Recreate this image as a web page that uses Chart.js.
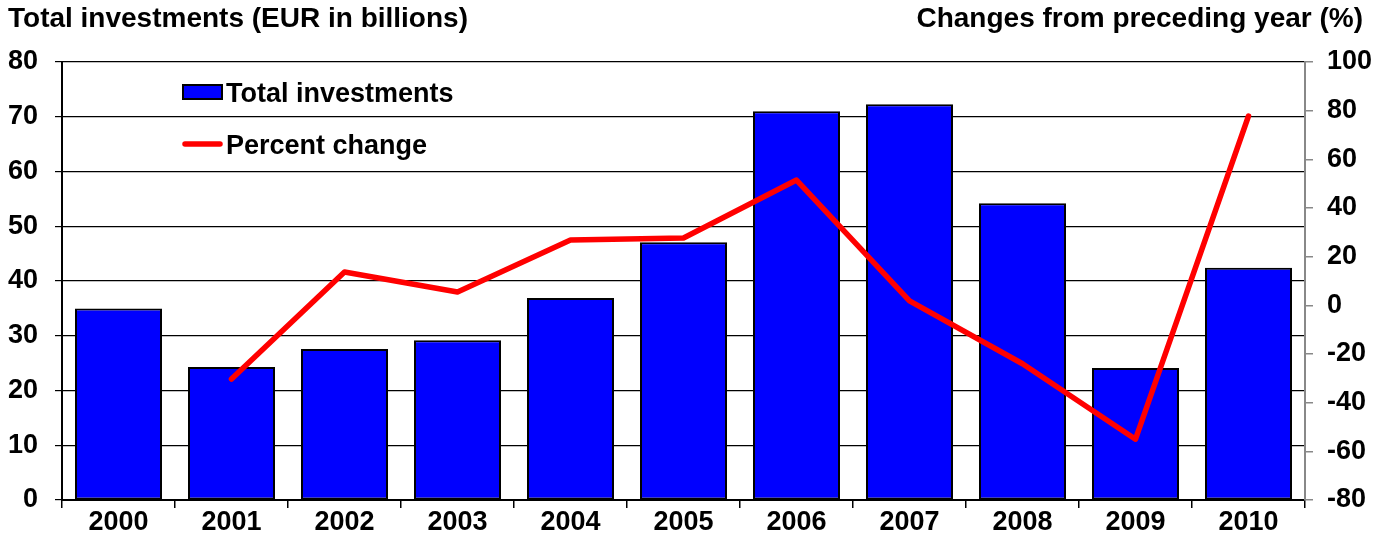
<!DOCTYPE html>
<html>
<head>
<meta charset="utf-8">
<title>Total investments</title>
<script src="https://cdn.jsdelivr.net/npm/chart.js@4/dist/chart.umd.min.js"></script>
<style>
  html, body { margin: 0; padding: 0; background: #fff; }
  canvas { display: block; }
</style>
</head>
<body>
<canvas id="chart1" width="1379" height="540"></canvas>
<script>
'use strict';

const years = ['2000', '2001', '2002', '2003', '2004', '2005', '2006', '2007', '2008', '2009', '2010'];
const investments = [35.0, 24.3, 27.6, 29.2, 36.9, 47.1, 71.0, 72.3, 54.2, 24.1, 42.4];
const percentChange = [null, -30.3, 13.7, 5.5, 26.8, 27.7, 51.5, 1.8, -24.0, -55.0, 77.8];

const leftTitle = 'Total investments (EUR in billions)';
const rightTitle = 'Changes from preceding year (%)';

const FONT = 'Liberation Sans, Arial, sans-serif';

// axis titles above the plot and the legend drawn inside it
const extras = {
  id: 'extras',
  afterDraw(chart) {
    const ctx = chart.ctx;
    ctx.save();
    ctx.fillStyle = '#000';
    ctx.textBaseline = 'alphabetic';
    ctx.font = 'bold 28px ' + FONT;
    ctx.textAlign = 'left';
    ctx.fillText(leftTitle, 8, 27);
    ctx.textAlign = 'right';
    ctx.fillText(rightTitle, 1363, 27);

    const ds = chart.data.datasets;
    ctx.font = 'bold 27px ' + FONT;
    ctx.textAlign = 'left';

    ctx.fillStyle = ds[0].backgroundColor;
    ctx.fillRect(183, 85, 39, 14);
    ctx.strokeStyle = '#000';
    ctx.lineWidth = 2;
    ctx.strokeRect(183, 85, 39, 14);
    ctx.fillStyle = '#000';
    ctx.fillText(ds[0].label, 226, 102);

    ctx.strokeStyle = ds[1].borderColor;
    ctx.lineWidth = 5.5;
    ctx.lineCap = 'round';
    ctx.beginPath();
    ctx.moveTo(185, 144);
    ctx.lineTo(220, 144);
    ctx.stroke();
    ctx.fillText(ds[1].label, 226, 154);
    ctx.restore();
  }
};

function run() {
  const ctx = document.getElementById('chart1').getContext('2d');
  new Chart(ctx, {
    type: 'bar',
    data: {
      labels: years,
      datasets: [
        {
          label: 'Total investments',
          data: investments,
          yAxisID: 'y',
          backgroundColor: '#0000ff',
          borderColor: '#000',
          borderWidth: 2,
          borderSkipped: false,
          barPercentage: 0.77,
          categoryPercentage: 1,
          order: 1
        },
        {
          type: 'line',
          label: 'Percent change',
          data: percentChange,
          yAxisID: 'y1',
          borderColor: '#ff0000',
          borderWidth: 5.5,
          borderCapStyle: 'round',
          borderJoinStyle: 'round',
          pointRadius: 0,
          tension: 0,
          order: 0
        }
      ]
    },
    options: {
      responsive: false,
      animation: false,
      devicePixelRatio: 1,
      layout: { padding: { top: 62, left: 0, right: 0, bottom: 0 } },
      plugins: {
        legend: { display: false },
        tooltip: { enabled: false }
      },
      scales: {
        x: {
          offset: true,
          afterFit: s => { s.height = 40; },
          border: { color: '#000', width: 2 },
          grid: { offset: true, drawOnChartArea: false, drawTicks: true, tickLength: 8, color: '#000', lineWidth: 1.5 },
          ticks: { color: '#000', padding: -2, font: { family: FONT, size: 27, weight: 'bold' } }
        },
        y: {
          position: 'left',
          min: 0,
          max: 80,
          afterFit: s => { s.width = 62; },
          border: { color: '#000', width: 2 },
          grid: { color: '#000', lineWidth: 1.2, tickLength: 7 },
          ticks: { stepSize: 10, color: '#000', padding: 17, font: { family: FONT, size: 27, weight: 'bold' } }
        },
        y1: {
          position: 'right',
          min: -80,
          max: 100,
          afterFit: s => { s.width = 74; },
          border: { color: '#888', width: 2 },
          grid: { drawOnChartArea: false, color: '#888', lineWidth: 1.5, tickLength: 8 },
          ticks: { stepSize: 20, color: '#000', padding: 14, font: { family: FONT, size: 27, weight: 'bold' } }
        }
      }
    },
    plugins: [extras]
  });
}

window.addEventListener('load', run);
</script>
</body>
</html>
